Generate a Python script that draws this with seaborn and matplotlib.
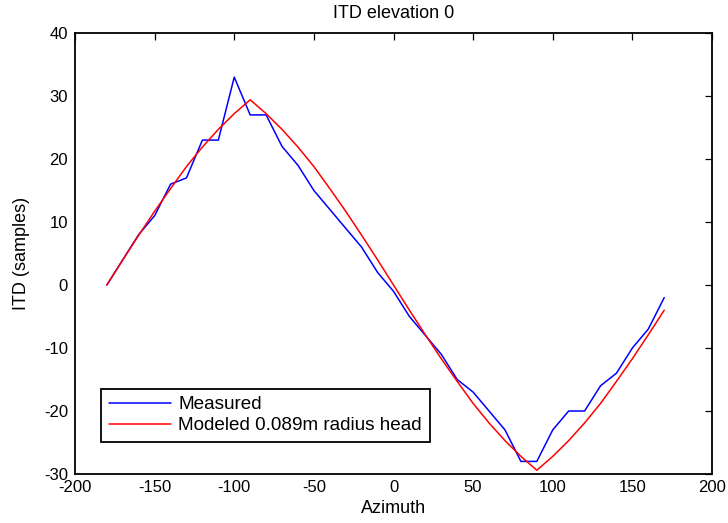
import numpy as np
import pandas as pd
import matplotlib
matplotlib.use("Agg")
import matplotlib.pyplot as plt
import seaborn as sns

azimuth = list(range(-180, 180, 10))
measured = [0, 4, 8, 11, 16, 17, 23, 23, 33, 27, 27, 22, 19, 15, 12, 9, 6, 2,
            -1, -5, -8, -11, -15, -17, -20, -23, -28, -28, -23, -20, -20, -16, -14, -10, -7, -2]
modeled = [0, 4.0, 7.9, 11.7, 15.3, 18.8, 21.9, 24.7, 27.2, 29.4, 27.2, 24.7, 21.9, 18.8, 15.3, 11.7, 7.9, 4.0,
           0, -4.0, -7.9, -11.7, -15.3, -18.8, -21.9, -24.7, -27.2, -29.4, -27.2, -24.7, -21.9, -18.8, -15.3, -11.7, -7.9, -4.0]
x_ticks = [-200, -150, -100, -50, 0, 50, 100, 150, 200]
y_ticks = [-30, -20, -10, 0, 10, 20, 30, 40]

sns.set_style("white")
plt.rcParams['font.family'] = ['Liberation Sans', 'DejaVu Sans']
plt.rcParams['axes.unicode_minus'] = False
plt.rcParams['text.color'] = 'black'
plt.rcParams['axes.labelcolor'] = 'black'
plt.rcParams['xtick.color'] = 'black'
plt.rcParams['ytick.color'] = 'black'

df = pd.DataFrame({
    "Azimuth": azimuth * 2,
    "ITD": measured + modeled,
    "series": ["Measured"] * len(azimuth) + ["Modeled 0.089m radius head"] * len(azimuth),
})

fig = plt.figure(figsize=(7.28, 5.23), dpi=100)
ax = fig.add_axes([75 / 728, 49 / 523, 637 / 728, 441 / 523])
sns.lineplot(data=df, x="Azimuth", y="ITD", hue="series",
             palette={"Measured": "#0000ff", "Modeled 0.089m radius head": "#ff0000"},
             linewidth=1.1, ax=ax, sort=False, estimator=None)

ax.set_xlim(-200, 200)
ax.set_ylim(-30, 40)
ax.set_xticks(x_ticks)
ax.set_yticks(y_ticks)
ax.tick_params(direction="in", length=5, width=0.9, labelsize=12, top=True, right=True,
               labeltop=False, labelright=False, colors="black")
ax.tick_params(axis="x", pad=4)
ax.tick_params(axis="y", pad=5)
for s in ax.spines.values():
    s.set_color("black")
    s.set_linewidth(1.3)
ax.set_xlabel("Azimuth", fontsize=13, labelpad=4, color="black")
ax.set_ylabel("ITD (samples)", fontsize=13, labelpad=10, color="black")
ax.set_title("ITD elevation 0", fontsize=13, pad=11, color="black")

leg = ax.legend(loc="lower left", bbox_to_anchor=(26 / 637, 32 / 441), fontsize=13.6,
                frameon=True, fancybox=False, edgecolor="black", framealpha=1,
                borderaxespad=0, handlelength=3.3, handletextpad=0.4,
                borderpad=0.4, labelspacing=0.2)
leg.get_frame().set_linewidth(1.3)
leg.set_title(None)
for t in leg.get_texts():
    t.set_color("black")

fig.savefig("out.png", dpi=100)
